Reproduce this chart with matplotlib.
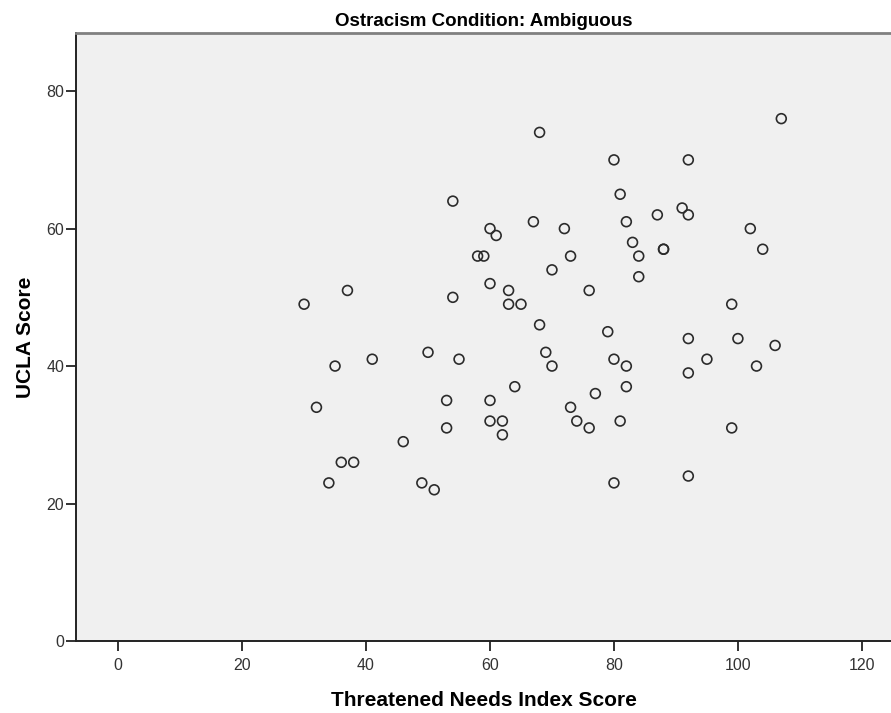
import matplotlib.pyplot as plt

# Threatened Needs Index Score (x) vs UCLA Score (y)
tni_score = [68, 54, 67, 60, 61, 58, 59, 70, 60, 63, 37, 30, 54, 63, 65, 68, 69, 70,
             50, 55, 41, 35, 64, 53, 60, 107, 80, 92, 81, 91, 92, 87, 82, 72, 102, 83,
             88, 88, 104, 84, 73, 84, 76, 99, 79, 92, 100, 106, 95, 80, 82, 103, 92,
             82, 77, 32, 60, 62, 62, 53, 46, 36, 38, 34, 49, 51, 73, 74, 76, 81, 99,
             80, 92]
ucla_score = [74, 64, 61, 60, 59, 56, 56, 54, 52, 51, 51, 49, 50, 49, 49, 46, 42, 40,
              42, 41, 41, 40, 37, 35, 35, 76, 70, 70, 65, 63, 62, 62, 61, 60, 60, 58,
              57, 57, 57, 56, 56, 53, 51, 49, 45, 44, 44, 43, 41, 41, 40, 40, 39,
              37, 36, 34, 32, 32, 30, 31, 29, 26, 26, 23, 23, 22, 34, 32, 31, 32, 31,
              23, 24]

x_ticks = [0, 20, 40, 60, 80, 100, 120]
y_ticks = [0, 20, 40, 60, 80]

plt.rcParams['font.family'] = ['Liberation Sans', 'DejaVu Sans']

fig = plt.figure(figsize=(8.91, 7.13), dpi=100)
ax = fig.add_axes([0.0853, 0.1010, 0.9147, 0.8531])
ax.set_facecolor('#f0f0f0')

ax.scatter(tni_score, ucla_score, s=50, facecolors='none', edgecolors='#2b2b2b',
           linewidths=1.2, zorder=3)

ax.set_xlim(-6.8, 124.7)
ax.set_ylim(0, 88.5)
ax.set_xticks(x_ticks)
ax.set_yticks(y_ticks)

for lab in ax.get_xticklabels() + ax.get_yticklabels():
    lab.set_fontsize(11.5)
    lab.set_color('#333333')
ax.tick_params(axis='x', length=7, width=1.3, color='#222222', pad=5)
ax.tick_params(axis='y', length=7, width=1.3, color='#222222', pad=1.5)

ax.spines['right'].set_visible(False)
ax.spines['top'].set_color('#808080')
ax.spines['top'].set_linewidth(2)
ax.spines['left'].set_color('#222222')
ax.spines['left'].set_linewidth(1.4)
ax.spines['bottom'].set_color('#222222')
ax.spines['bottom'].set_linewidth(1.4)

ax.set_xlabel('Threatened Needs Index Score', fontsize=15, fontweight='bold',
              labelpad=13)
ax.set_ylabel('UCLA Score', fontsize=15, fontweight='bold', labelpad=8)
ax.set_title('Ostracism Condition: Ambiguous', fontsize=13.5,
             fontweight='bold', pad=5)

plt.savefig('out.png', dpi=100)
